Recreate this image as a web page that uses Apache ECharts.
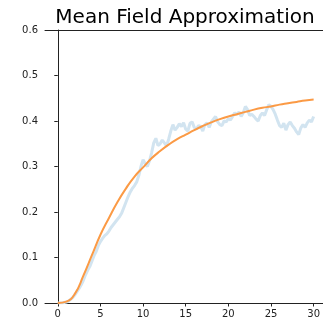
<!DOCTYPE html>
<html>
<head>
<meta charset="utf-8">
<script src="https://cdn.jsdelivr.net/npm/echarts@6/dist/echarts.min.js"></script>
<style>html,body{margin:0;padding:0;background:#fff}#c{width:323px;height:321px}</style>
</head>
<body>
<div id="c"></div>
<script>
var titleText = 'Mean Field Approximation';
var xTicks = [0, 5, 10, 15, 20, 25, 30];
var yTicks = [0, 0.1, 0.2, 0.3, 0.4, 0.5, 0.6];

// mean-field curve, sampled at t = 0..30
var meanFieldT = [0,1,2,3,4,5,6,7,8,9,10,11,12,13,14,15,16,17,18,19,20,21,22,23,24,25,26,27,28,29,30];
var meanFieldV = [0.000,0.003,0.020,0.060,0.105,0.150,0.187,0.222,0.252,0.278,0.298,0.318,0.334,0.348,0.360,0.370,0.380,0.389,0.397,0.404,0.410,0.415,0.420,0.425,0.429,0.432,0.436,0.439,0.442,0.445,0.447];

// simulation trace, sampled at t = 0, 0.25, ..., 30
var simStep = 0.25;
var simV = [
0.000,0.000,0.000,0.001,0.002,0.004,0.008,0.012,0.018,0.025,0.032,0.040,
0.050,0.062,0.072,0.080,0.092,0.104,0.113,0.126,0.135,0.142,0.148,0.152,
0.158,0.166,0.172,0.178,0.184,0.190,0.198,0.210,0.222,0.234,0.244,0.252,
0.258,0.266,0.280,0.300,0.315,0.306,0.300,0.312,0.330,0.352,0.362,0.346,
0.350,0.358,0.352,0.345,0.360,0.378,0.392,0.380,0.386,0.394,0.388,0.396,
0.382,0.378,0.395,0.398,0.386,0.382,0.390,0.388,0.378,0.392,0.396,0.386,
0.398,0.404,0.410,0.398,0.392,0.390,0.400,0.398,0.405,0.402,0.410,0.418,
0.414,0.420,0.410,0.418,0.432,0.425,0.412,0.415,0.410,0.404,0.400,0.412,
0.418,0.412,0.425,0.436,0.432,0.425,0.415,0.402,0.390,0.386,0.395,0.380,
0.392,0.398,0.390,0.384,0.376,0.370,0.385,0.392,0.386,0.396,0.402,0.398,
0.410];

var simData = simV.map(function (v, i) { return [i * simStep, v]; });
var mfData = meanFieldT.map(function (t, i) { return [t, meanFieldV[i]]; });

var font = 'DejaVu Sans';
var axisColor = '#222';
var chart = echarts.init(document.getElementById('c'), null, {renderer: 'canvas'});
chart.setOption({
  animation: false,
  title: {
    text: titleText, left: 180, top: 3, textAlign: 'center',
    textStyle: {fontFamily: font, fontSize: 20, fontWeight: 'normal', color: '#000'}
  },
  grid: {left: 45, top: 30, bottom: 18, right: 0},
  xAxis: [{
    type: 'value', min: -1.5, max: 31.06,
    axisLine: {show: true, lineStyle: {color: axisColor, width: 1}},
    axisTick: {show: true, length: 3.5, inside: false, customValues: xTicks, lineStyle: {color: axisColor}},
    axisLabel: {customValues: xTicks, margin: 6, fontFamily: font, fontSize: 10, color: axisColor, showMaxLabel: true, showMinLabel: true},
    splitLine: {show: false}
  }, {
    type: 'value', position: 'top', min: -1.5, max: 31.06,
    axisLine: {show: true, lineStyle: {color: axisColor, width: 1}},
    axisTick: {show: false}, axisLabel: {show: false}, splitLine: {show: false}
  }],
  yAxis: {
    type: 'value', min: 0, max: 0.6, interval: 0.1,
    axisLine: {show: true, lineStyle: {color: axisColor, width: 1}},
    axisTick: {show: true, length: 3.5, inside: false, lineStyle: {color: axisColor}},
    axisLabel: {margin: 7, fontFamily: font, fontSize: 10, color: axisColor, formatter: function (v) { return v.toFixed(1); }},
    splitLine: {show: false}
  },
  series: [
    {type: 'line', data: simData, showSymbol: false, lineStyle: {color: '#d2e4f0', width: 3}, z: 2},
    {type: 'line', data: mfData, smooth: true, showSymbol: false, lineStyle: {color: '#fb9a45', width: 2}, z: 3}
  ]
});
</script>
</body>
</html>
